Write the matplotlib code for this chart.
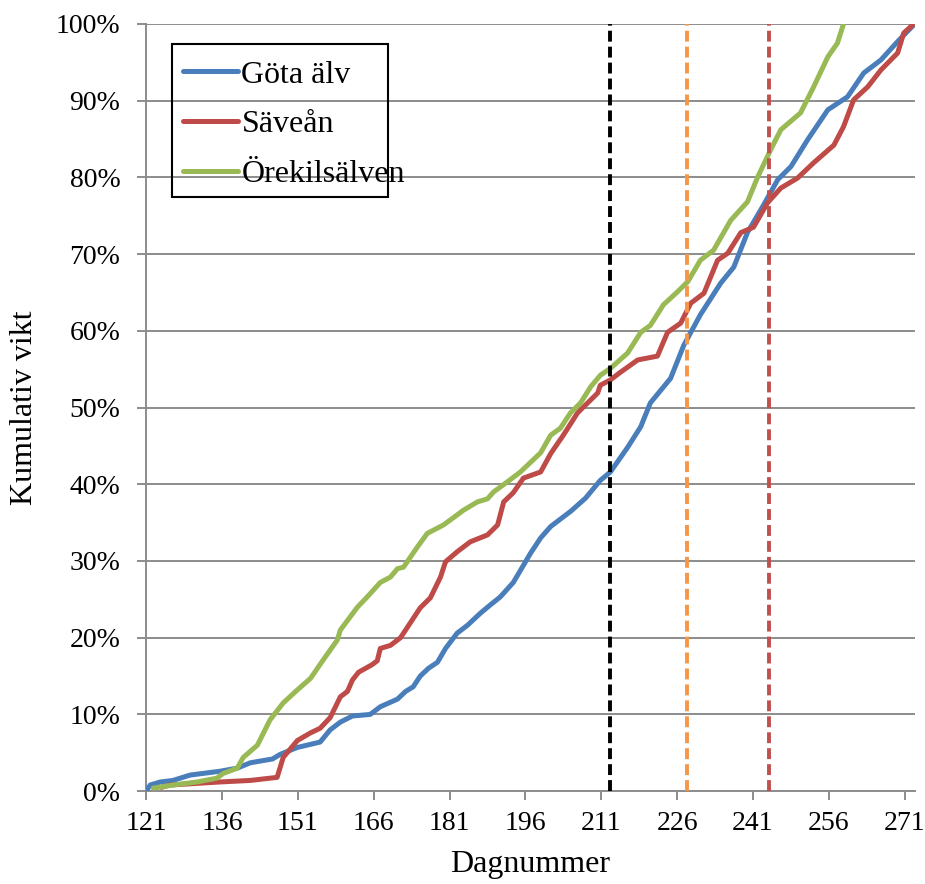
import numpy as np
import matplotlib.pyplot as plt
from matplotlib.patches import Rectangle
from matplotlib.ticker import FuncFormatter

plt.rcParams['font.family'] = ['Liberation Serif', 'DejaVu Serif']

# Göta älv
gota_dag = [121, 121.8, 123.8, 126.3, 129.7, 135.6, 139, 141.6, 146, 147.5, 150.9, 155.4, 157.4,
            159.4, 161.8, 165.3, 167.3, 170.7, 172.3, 173.8, 175.2, 176.8, 178.6, 180.2, 182.5,
            184.5, 187.1, 189.1, 191, 193.6, 197, 199, 201, 203, 205, 207.9, 210.8, 212.8, 216.2,
            218.8, 220.7, 224.7, 227.3, 230.6, 234.6, 237.2, 239.9, 243.1, 245.9, 248.5, 251.8,
            255.8, 259.7, 262.9, 266.3, 269.6, 273]
gota_pct = [0, 0.8, 1.2, 1.4, 2.1, 2.6, 3.0, 3.7, 4.2, 4.8, 5.7, 6.4, 8.0,
            9.0, 9.8, 10.0, 11.0, 12.0, 13.0, 13.6, 15.0, 16.0, 16.8, 18.6, 20.6,
            21.6, 23.2, 24.3, 25.3, 27.2, 31.0, 33.0, 34.5, 35.5, 36.5, 38.2, 40.5, 41.6, 44.8,
            47.5, 50.6, 53.8, 58.1, 62.1, 66.2, 68.3, 72.8, 76.4, 79.7, 81.4, 84.9,
            88.8, 90.5, 93.6, 95.3, 97.7, 100]

# Säveån
save_dag = [124, 125.7, 135.6, 141.6, 146.9, 148.1, 150.9, 153.5, 155.4, 157.4, 159.4, 160.8,
            161.8, 163, 165.7, 166.7, 167.3, 169.3, 171.3, 173.2, 175.2, 177.2, 179.2, 180.2,
            182.5, 185.1, 188.5, 190.5, 191.7, 193.6, 195.6, 199, 201, 203.5, 206.3, 208.3,
            210.3, 210.8, 212.8, 214.8, 218.2, 222.1, 224.1, 226.7, 228.7, 231.3, 234, 236,
            238.6, 241.1, 243.9, 246.5, 249.8, 253, 257, 258.9, 260.9, 263.7, 266.3, 269.6,
            270.8, 272.8]
save_pct = [0.5, 0.8, 1.2, 1.4, 1.8, 4.4, 6.6, 7.6, 8.2, 9.6, 12.3, 13.0,
            14.5, 15.5, 16.5, 17.0, 18.6, 19.0, 20.0, 21.9, 23.9, 25.2, 27.9, 29.9,
            31.2, 32.5, 33.4, 34.7, 37.7, 38.9, 40.8, 41.6, 44.0, 46.4, 49.3, 50.6,
            51.9, 52.9, 53.6, 54.6, 56.2, 56.7, 59.8, 61.0, 63.6, 64.9, 69.2, 70.1,
            72.8, 73.5, 76.7, 78.6, 79.9, 81.9, 84.2, 86.6, 90.1, 91.8, 94.0, 96.2,
            98.8, 100]

# Örekilsälven
orek_dag = [122.4, 126.3, 131.1, 135, 136.2, 139, 140.2, 143, 145.5, 148.1, 150.9, 153.5, 156,
            158.8, 159.4, 162.8, 164.7, 167.3, 169.3, 170.7, 171.9, 174.6, 176.6, 179.8, 182.5,
            183.7, 186.5, 188.5, 189.7, 192.4, 195, 199, 201, 202.9, 204.9, 206.9, 208.9, 210.8,
            212.8, 216.2, 218.8, 220.7, 223.3, 226.1, 228.1, 230.6, 233.2, 236.6, 239.9, 241.9,
            244.5, 246.5, 250.4, 253, 255.8, 257.7, 258.9]
orek_pct = [0.4, 0.8, 1.2, 1.7, 2.3, 3.0, 4.4, 6.0, 9.3, 11.5, 13.2, 14.7, 17.1,
            19.7, 21.0, 24.0, 25.3, 27.2, 27.9, 29.0, 29.2, 31.8, 33.6, 34.7, 36.0,
            36.6, 37.7, 38.1, 39.0, 40.3, 41.6, 44.1, 46.4, 47.3, 49.3, 50.6, 52.7, 54.2,
            55.1, 57.1, 59.8, 60.7, 63.4, 65.1, 66.4, 69.2, 70.5, 74.4, 76.8, 80.0,
            83.6, 86.2, 88.4, 91.8, 95.7, 97.5, 100]

markering_dag = [212.7, 227.9, 244.1]
markering_farg = ['black', '#F79646', '#C0504D']

xticks = list(range(121, 272, 15))

fig = plt.figure(figsize=(9.25, 8.84), dpi=100)
ax = fig.add_axes([0.158, 0.105, 0.831, 0.868])

ax.plot(gota_dag, np.array(gota_pct) / 100, color='#4A7EBB', lw=3.6, label='Göta älv',
        solid_capstyle='round', solid_joinstyle='round', zorder=3)
ax.plot(save_dag, np.array(save_pct) / 100, color='#BE4B48', lw=3.6, label='Säveån',
        solid_capstyle='round', solid_joinstyle='round', zorder=3)
ax.plot(orek_dag, np.array(orek_pct) / 100, color='#98B954', lw=3.6, label='Örekilsälven',
        solid_capstyle='round', solid_joinstyle='round', zorder=3)

for d, c in zip(markering_dag, markering_farg):
    ax.axvline(d, color=c, lw=2.8, linestyle=(0, (2.8, 1.3)), zorder=4)

ax.set_xlim(121, 273)
ax.set_ylim(0, 1)
ax.set_xticks(xticks)
ax.set_yticks(np.linspace(0, 1, 11))
ax.yaxis.set_major_formatter(FuncFormatter(lambda v, p: f'{v * 100:.0f}%'))
ax.grid(axis='y', color='#8C8C8C', lw=1.4)
ax.set_axisbelow(True)

for s in ['top', 'right']:
    ax.spines[s].set_visible(False)
for s in ['left', 'bottom']:
    ax.spines[s].set_color('#8C8C8C')
    ax.spines[s].set_linewidth(1.4)
ax.tick_params(axis='both', colors='#8C8C8C', labelcolor='black', length=6.5, width=1.4,
               labelsize=20)
ax.tick_params(axis='y', pad=12)
ax.tick_params(axis='x', pad=8)

ax.set_xlabel('Dagnummer', fontsize=23, labelpad=10)
ax.set_ylabel('Kumulativ vikt', fontsize=23, labelpad=12)

# legend text runs past its box in the original, so the box is drawn on its own
leg = ax.legend(loc='upper left', bbox_to_anchor=(0.033, 0.968), fontsize=23, frameon=False,
                handlelength=1.7, handletextpad=0.12, labelspacing=0.64, borderpad=0.37,
                borderaxespad=0)
leg.set_zorder(5)
fig.patches.append(Rectangle((0.186, 0.777), 0.2335, 0.173, transform=fig.transFigure,
                             fill=False, edgecolor='black', lw=1.5, zorder=5))

fig.savefig('out.png', dpi=100)
